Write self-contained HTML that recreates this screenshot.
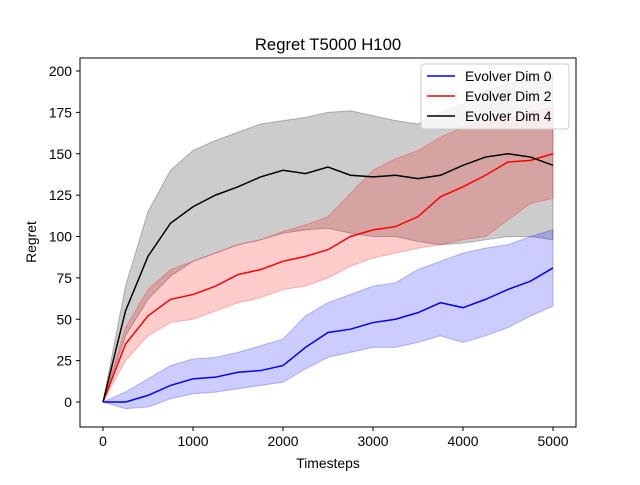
<!DOCTYPE html>
<html><head><meta charset="utf-8"><style>
body{margin:0;background:#fff;}
svg text{font-family:"Liberation Sans","DejaVu Sans",sans-serif;fill:#000;}
</style></head><body>
<svg id="chart" width="640" height="480" viewBox="0 0 640 480">
<rect width="640" height="480" fill="#fff"/>
<g id="plot"></g>
<rect x="80" y="58" width="496" height="369" fill="none" stroke="#000" stroke-width="1"/>
<text x="328" y="50" font-size="16.7" text-anchor="middle">Regret T5000 H100</text>
<text x="328" y="468" font-size="13.9" text-anchor="middle">Timesteps</text>
<text x="36" y="242" font-size="13.9" text-anchor="middle" transform="rotate(-90 36 242)">Regret</text>
<g id="ticks"></g>
<g>
<rect x="421" y="64" width="148" height="65" rx="3" fill="#fff" fill-opacity="0.8" stroke="#ccc"/>
<line x1="427" y1="76" x2="455" y2="76" stroke="#0000ff" stroke-width="1.5"/>
<text x="465" y="81" font-size="13.9">Evolver Dim 0</text>
<line x1="427" y1="96" x2="455" y2="96" stroke="#ff0000" stroke-width="1.5"/>
<text x="465" y="101" font-size="13.9">Evolver Dim 2</text>
<line x1="427" y1="116" x2="455" y2="116" stroke="#000" stroke-width="1.5"/>
<text x="465" y="121" font-size="13.9">Evolver Dim 4</text>
</g>
</svg>
<script>
const timesteps=[0,250,500,750,1000,1250,1500,1750,2000,2250,2500,2750,3000,3250,3500,3750,4000,4250,4500,4750,5000];
const dim0Mean=[0,0,4,10,14,15,18,19,22,33,42,44,48,50,54,60,57,62,68,73,81];
const dim0Upper=[0,6,14,22,26,27,30,34,38,52,60,65,70,72,80,85,90,93,95,100,104];
const dim0Lower=[0,-4,-3,2,5,6,8,10,12,20,27,30,33,33,36,40,36,40,45,52,58];
const dim2Mean=[0,35,52,62,65,70,77,80,85,88,92,100,104,106,112,124,130,137,145,146,150];
const dim2Upper=[0,45,68,80,85,90,95,98,103,107,112,126,140,147,152,160,166,170,172,175,178];
const dim2Lower=[0,25,40,48,50,55,60,63,68,70,75,82,87,90,93,95,98,100,110,120,123];
const dim4Mean=[0,55,88,108,118,125,130,136,140,138,142,137,136,137,135,137,143,148,150,148,143];
const dim4Upper=[0,70,115,140,152,158,163,168,170,172,175,176,173,170,168,175,180,188,192,195,198];
const dim4Lower=[0,40,62,76,85,90,95,98,102,104,105,102,100,100,97,95,96,98,100,100,98];
const xTicks=[0,1000,2000,3000,4000,5000];
const yTicks=[0,25,50,75,100,125,150,175,200];
const NS="http://www.w3.org/2000/svg";
function xs(v){return 103+v*0.09;}
function ys(v){return 402-v*1.655;}
const plot=document.getElementById('plot');
const ticks=document.getElementById('ticks');
function mk(tag,attrs,parent){const e=document.createElementNS(NS,tag);for(const k in attrs)e.setAttribute(k,attrs[k]);parent.appendChild(e);return e;}
const series=[
 {name:'dim4',color:'#000000',mean:dim4Mean,up:dim4Upper,lo:dim4Lower},
 {name:'dim2',color:'#ff0000',mean:dim2Mean,up:dim2Upper,lo:dim2Lower},
 {name:'dim0',color:'#0000ff',mean:dim0Mean,up:dim0Upper,lo:dim0Lower}];
series.forEach(s=>{
 let pts=timesteps.map((t,i)=>xs(t)+','+ys(s.up[i]));
 for(let i=timesteps.length-1;i>=0;i--)pts.push(xs(timesteps[i])+','+ys(s.lo[i]));
 const band=mk('polygon',{points:pts.join(' '),fill:s.color,'fill-opacity':0.2,stroke:s.color,'stroke-opacity':0.25},plot);
 
 
});
series.slice().reverse().forEach(s=>{
 const line=mk('polyline',{points:timesteps.map((t,i)=>xs(t)+','+ys(s.mean[i])).join(' '),fill:'none',stroke:s.color,'stroke-width':1.5},plot);
 
 
});
xTicks.forEach(v=>{
 mk('line',{x1:xs(v),x2:xs(v),y1:427,y2:431,stroke:'#000'},ticks);
 const t=mk('text',{x:xs(v),y:446,'font-size':13.9,'text-anchor':'middle'},ticks);
 t.textContent=v;
 
 
});
yTicks.forEach(v=>{
 mk('line',{x1:76,x2:80,y1:ys(v),y2:ys(v),stroke:'#000'},ticks);
 const t=mk('text',{x:72,y:ys(v)+5,'font-size':13.9,'text-anchor':'end'},ticks);
 t.textContent=v;
 
 
});
</script>
</body></html>
